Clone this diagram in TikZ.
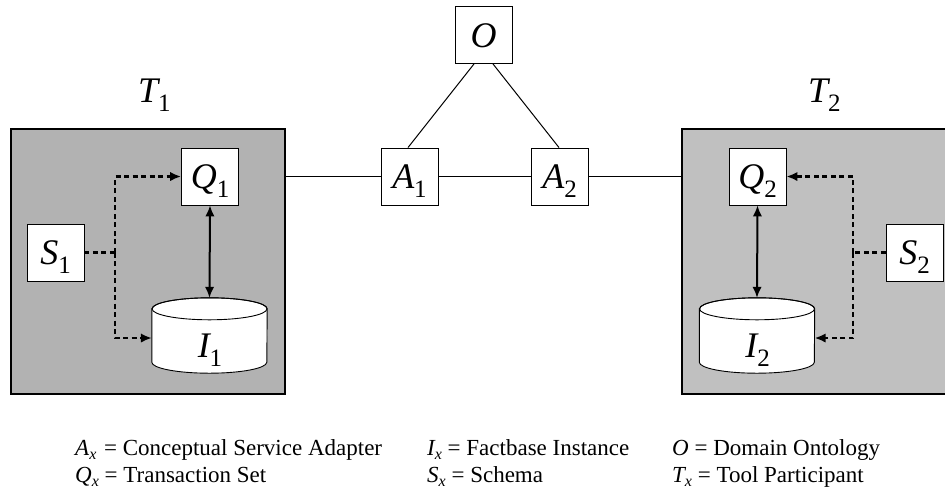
\documentclass[tikz,border=0pt]{standalone}
\usepackage{fontspec}
\setmainfont{Liberation Serif}
\usetikzlibrary{arrows.meta}

% italic symbol with a lowered upright index
\newcommand\symsub[2]{{\itshape #1}\raisebox{-9pt}[0pt][0pt]{\fontsize{25}{25}\selectfont #2}}
% legend symbol with a lowered italic index (optional trailing kern)
\newcommand\legsub[3][0pt]{{\itshape #2}\raisebox{-4.5pt}[0pt][0pt]{\fontsize{16}{16}\selectfont\itshape #3}\kern#1\relax}

\definecolor{panelA}{RGB}{178,178,178}
\definecolor{panelB}{RGB}{192,192,192}

\tikzset{
  panel/.style={draw=black, line width=1.2pt, inner sep=0pt, minimum height=265pt},
  sqbox/.style={draw=black, fill=white, line width=0.9pt, inner sep=0pt,
    minimum width=57pt, minimum height=57pt,
    font=\fontsize{36}{36}\selectfont, text height=24pt, text depth=0pt},
  drumnode/.style={inner sep=0pt, minimum width=115pt, minimum height=75pt},
  biglabel/.style={inner sep=0pt, font=\fontsize{36}{36}\selectfont},
  legend/.style={inner sep=0pt, anchor=base west, font=\fontsize{23}{23}\selectfont},
  link/.style={line width=1pt},
  dsh/.style={line width=2.1pt, dash pattern=on 5pt off 3.5pt},
  tip/.style={-{Latex[length=11pt,width=9.5pt]}},
  dbl/.style={line width=2pt, {Latex[length=11pt,width=9.5pt]}-{Latex[length=11pt,width=9.5pt]}},
}

% database cylinder drawn around a named node
\newcommand\drum[1]{%
  \draw[fill=white, line width=0.9pt]
    ([yshift=-11pt]#1.north west) -- ([yshift=11pt]#1.south west)
    arc[start angle=180, end angle=360, x radius=57.5pt, y radius=11pt]
    -- ([yshift=-11pt]#1.north east)
    arc[start angle=0, end angle=180, x radius=57.5pt, y radius=11pt] -- cycle;
  \draw[line width=0.9pt] ([yshift=-11pt]#1.north) ellipse[x radius=57.5pt, y radius=11pt];
}

\begin{document}
\begin{tikzpicture}[x=1pt, y=-1pt]
\useasboundingbox (0,0) rectangle (945,491);

% tool participant panels
\node[panel, fill=panelA, minimum width=274pt] (P1) at (148,261.5) {};
\node[panel, fill=panelB, minimum width=268pt] (P2) at (816,261.5) {};
\node[biglabel, anchor=base west] (T1) at (138,102) {\symsub{T}{1}};
\node[biglabel, anchor=base west] (T2) at (808,102) {\symsub{T}{2}};

% ontology and adapters
\node[sqbox] (O)  at (483.5,35) {\itshape O};
\node[sqbox] (A1) at (409.5,176.5) {\symsub{A}{1}};
\node[sqbox] (A2) at (559.5,176.5) {\symsub{A}{2}};

\draw[link] ([xshift=-9.5pt]O.south) -- ([xshift=-1.5pt]A1.north);
\draw[link] ([xshift=9.5pt]O.south) -- ([xshift=-0.5pt]A2.north);
\draw[link] (P1.east |- A1.west) -- (A1.west);
\draw[link] (A1.east) -- (A2.west);
\draw[link] (A2.east) -- (P2.west |- A2.east);

% left tool
\node[drumnode] (I1) at (209.5,335.5) {};
\drum{I1}
\node[biglabel] (I1t) at (210,346) {\symsub{I}{1}};
\node[sqbox] (Q1) at (210,176.5) {\symsub{Q}{1}};
\node[sqbox] (S1) at (55.5,252.5) {\symsub{S}{1}};
\coordinate (J1) at (115,252.5);
\draw[dsh] (S1.east) -- (J1);
\draw[dsh, tip] (J1) |- (Q1.west);
\draw[dsh, tip] (J1) |- ([yshift=-2.5pt]I1.west);
\draw[dbl] (Q1.south) -- (I1.north);

% right tool
\node[drumnode] (I2) at (757,335.5) {};
\drum{I2}
\node[biglabel] (I2t) at (757.5,346) {\symsub{I}{2}};
\node[sqbox] (Q2) at (757.5,176.5) {\symsub{Q}{2}};
\node[sqbox] (S2) at (914.5,252.5) {\symsub{S}{2}};
\coordinate (J2) at (853,252.5);
\draw[dsh] (S2.west) -- (J2);
\draw[dsh, tip] (J2) |- (Q2.east);
\draw[dsh, tip] (J2) |- ([yshift=-2.5pt]I2.east);
\draw[dbl] (Q2.south) -- (I2.north);

% legend
\node[legend] (L1) at (75,455)  {\legsub[2pt]{A}{x} = Conceptual Service Adapter};
\node[legend] (L2) at (75,482)  {\legsub{Q}{x} = Transaction Set};
\node[legend] (L3) at (427,455) {\legsub{I}{x} = Factbase Instance};
\node[legend] (L4) at (427,482) {\legsub{S}{x} = Schema};
\node[legend] (L5) at (672,455) {{\itshape O} = Domain Ontology};
\node[legend] (L6) at (672,482) {\legsub{T}{x} = Tool Participant};
\end{tikzpicture}
\end{document}
